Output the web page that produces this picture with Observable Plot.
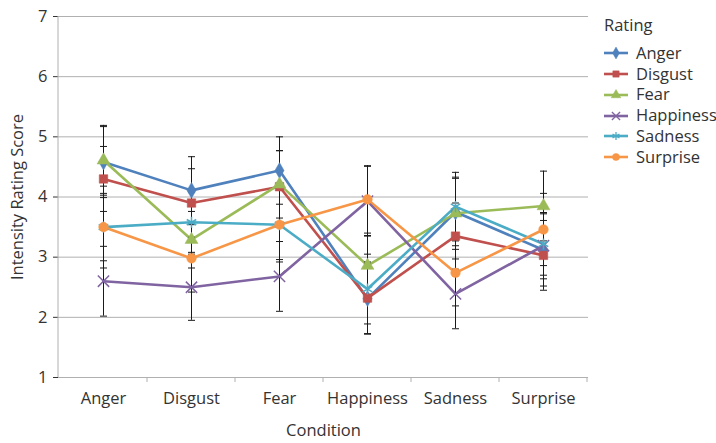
<!DOCTYPE html>
<html><head><meta charset="utf-8">
<script src="https://cdn.jsdelivr.net/npm/d3@7"></script>
<script src="https://cdn.jsdelivr.net/npm/@observablehq/plot@0.6"></script>
<style>
body{margin:0;background:#fff;font-family:"Open Sans",sans-serif;}
#wrap{position:relative;width:716px;height:443px;}
#legend{position:absolute;left:604px;top:15px;font-size:16.5px;color:#333;line-height:20.8px;}
#legend .title{margin-bottom:7px;}
#legend .item{display:flex;align-items:center;height:20.8px;white-space:nowrap;}
#legend svg{margin-right:8px;}
</style></head><body><div id="wrap"></div><script>
const conditions = ["Anger","Disgust","Fear","Happiness","Sadness","Surprise"];
const ratings = ["Anger","Disgust","Fear","Happiness","Sadness","Surprise"];
const yTicks = [1,2,3,4,5,6,7];
const colors = ["#4F81BD","#C0504D","#9BBB59","#8064A2","#4BACC6","#F79646"];
const symbols = ["diamond","square","triangle","times","asterisk","circle"];

const angerVals     = [4.58, 4.11, 4.44, 2.31, 3.75, 3.12];
const disgustVals   = [4.30, 3.90, 4.17, 2.32, 3.35, 3.03];
const fearVals      = [4.61, 3.29, 4.21, 2.86, 3.73, 3.85];
const happinessVals = [2.60, 2.50, 2.68, 3.93, 2.39, 3.19];
const sadnessVals   = [3.50, 3.58, 3.54, 2.47, 3.84, 3.22];
const surpriseVals  = [3.50, 2.98, 3.54, 3.96, 2.74, 3.46];

const angerErr     = [0.59, 0.56, 0.56, 0.58, 0.56, 0.60];
const disgustErr   = [0.54, 0.57, 0.60, 0.60, 0.55, 0.58];
const fearErr      = [0.58, 0.47, 0.56, 0.50, 0.60, 0.58];
const happinessErr = [0.58, 0.55, 0.58, 0.58, 0.58, 0.55];
const sadnessErr   = [0.68, 0.50, 0.62, 0.58, 0.57, 0.52];
const surpriseErr  = [0.56, 0.56, 0.58, 0.56, 0.55, 0.60];

const seriesVals = [angerVals, disgustVals, fearVals, happinessVals, sadnessVals, surpriseVals];
const seriesErr = [angerErr, disgustErr, fearErr, happinessErr, sadnessErr, surpriseErr];

const data = [];
ratings.forEach((r, si) => conditions.forEach((c, ci) => data.push({rating: r, condition: c, value: seriesVals[si][ci], err: seriesErr[si][ci]})));

const axisDecor = (index, scales, values, dims) => {
  const g = d3.create("svg:g").attr("stroke", "#b0b0b0").attr("stroke-width", 1);
  const xs = conditions.map(c => scales.x(c));
  const step = xs[1] - xs[0];
  const y0 = dims.height - dims.marginBottom;
  g.append("line").attr("x1", dims.marginLeft).attr("x2", dims.marginLeft).attr("y1", dims.marginTop).attr("y2", y0);
  xs.forEach(v => g.append("line").attr("x1", v + step / 2).attr("x2", v + step / 2).attr("y1", y0).attr("y2", y0 + 5));
  return g.node();
};

const capSymbol = {draw(context) { context.moveTo(-3.5, 0); context.lineTo(3.5, 0); }};

const dotMarks = ratings.map((r, si) => {
  const filled = symbols[si] !== "times" && symbols[si] !== "asterisk";
  return Plot.dot(data.filter(d => d.rating === r), {
    x: "condition", y: "value", symbol: symbols[si], r: filled ? 4.8 : 5.2,
    fill: filled ? colors[si] : "none", stroke: colors[si], strokeWidth: filled ? 0.5 : 1.5
  });
});

const chart = Plot.plot({
  width: 716, height: 443,
  marginLeft: 58, marginRight: 128, marginTop: 16, marginBottom: 66,
  style: {fontFamily: "'Open Sans', sans-serif", fontSize: "16.5px", color: "#333", background: "white"},
  x: {type: "point", domain: conditions, padding: 0.5, label: "Condition", labelAnchor: "center", labelOffset: 58, tickSize: 0, tickPadding: 15},
  y: {domain: [1, 7], ticks: yTicks, label: "Intensity Rating Score", labelAnchor: "center", labelArrow: "none", labelOffset: 47, tickSize: 5, tickPadding: 6, tickFormat: d => d},
  color: {domain: ratings, range: colors},
  marks: [
    Plot.ruleY(yTicks, {stroke: "#b0b0b0", strokeWidth: 1}),
    axisDecor,
    Plot.line(data, {x: "condition", y: "value", z: "rating", stroke: "rating", strokeWidth: 2.6}),
    Plot.ruleX(data, {x: "condition", y1: d => d.value - d.err, y2: d => d.value + d.err, stroke: "#1a1a1a", strokeWidth: 1}),
    Plot.dot(data, {x: "condition", y: d => d.value + d.err, symbol: capSymbol, fill: "none", stroke: "#1a1a1a", strokeWidth: 1}),
    Plot.dot(data, {x: "condition", y: d => d.value - d.err, symbol: capSymbol, fill: "none", stroke: "#1a1a1a", strokeWidth: 1}),
    ...dotMarks
  ]
});
const wrap = document.getElementById("wrap");
wrap.appendChild(chart);

// legend
const leg = document.createElement("div");
leg.id = "legend";
const t = document.createElement("div"); t.className = "title"; t.textContent = "Rating"; leg.appendChild(t);
const symMap = {diamond: d3.symbolDiamond, square: d3.symbolSquare, triangle: d3.symbolTriangle, times: d3.symbolTimes, asterisk: d3.symbolAsterisk, circle: d3.symbolCircle};
ratings.forEach((r, si) => {
  const item = document.createElement("div"); item.className = "item";
  const sw = d3.create("svg").attr("width", 24).attr("height", 12);
  sw.append("line").attr("x1", 0).attr("x2", 24).attr("y1", 6).attr("y2", 6).attr("stroke", colors[si]).attr("stroke-width", 2.6);
  const filled = symbols[si] !== "times" && symbols[si] !== "asterisk";
  sw.append("path").attr("transform", "translate(12,6)").attr("d", d3.symbol(symMap[symbols[si]], filled ? 40 : 45)())
    .attr("fill", filled ? colors[si] : "none").attr("stroke", colors[si]).attr("stroke-width", filled ? 0.5 : 1.3);
  item.appendChild(sw.node());
  const s = document.createElement("span"); s.textContent = r; item.appendChild(s);
  leg.appendChild(item);
});
wrap.appendChild(leg);
</script></body></html>
